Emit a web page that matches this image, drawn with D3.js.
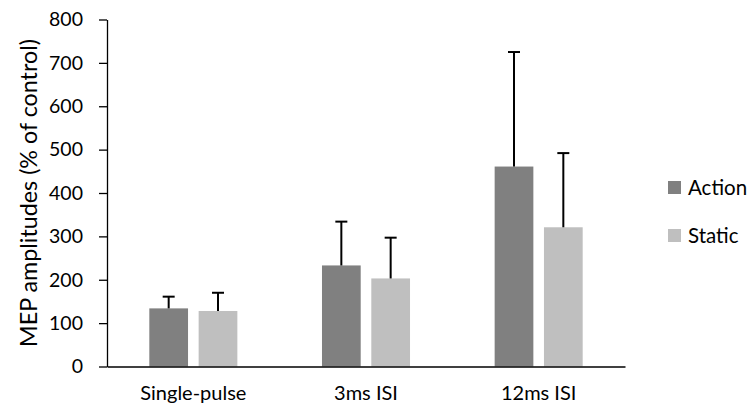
<!DOCTYPE html>
<html>
<head>
<meta charset="utf-8">
<script src="https://cdn.jsdelivr.net/npm/d3@7/dist/d3.min.js"></script>
<style>
  html, body { margin: 0; padding: 0; background: #fff; }
  svg { display: block; font-family: Lato, "Open Sans", sans-serif; }
</style>
</head>
<body>
<svg id="chart" width="750" height="410"></svg>
<script>
// Conditions, series and their mean / error values (% of control)
const categories = ["Single-pulse", "3ms ISI", "12ms ISI"];
const seriesNames = ["Action", "Static"];
const actionMeans = [134, 233, 461];
const staticMeans = [128, 203, 321];
const actionErrTop = [161, 334, 725];
const staticErrTop = [170, 297, 492];
const yTicks = [0, 100, 200, 300, 400, 500, 600, 700, 800];
const colors = ["#808080", "#bfbfbf"];

const rows = categories.map((c, i) => ({
  category: c,
  values: [
    { series: seriesNames[0], mean: actionMeans[i], top: actionErrTop[i] },
    { series: seriesNames[1], mean: staticMeans[i], top: staticErrTop[i] }
  ]
}));

const svg = d3.select("#chart");
const plot = { left: 107, right: 625, top: 19.5, bottom: 366.5 };

const x0 = d3.scaleBand().domain(categories).range([plot.left, plot.right]).padding(0);
const x1 = d3.scaleBand().domain(seriesNames).range([0, x0.bandwidth()])
  .paddingInner(0.215).paddingOuter(0.858);
const y = d3.scaleLinear().domain([0, 800]).range([plot.bottom, plot.top]);
const color = d3.scaleOrdinal().domain(seriesNames).range(colors);

// Bars
const groups = svg.append("g").selectAll("g").data(rows).join("g")
  .attr("transform", d => `translate(${x0(d.category)},0)`);

groups.selectAll("rect").data(d => d.values).join("rect")
  .attr("x", d => x1(d.series))
  .attr("y", d => y(d.mean))
  .attr("width", x1.bandwidth())
  .attr("height", d => y(0) - y(d.mean))
  .attr("fill", d => color(d.series));

// Upper error bars
const capHalf = 6;
groups.selectAll("g.err").data(d => d.values).join("g").attr("class", "err")
  .each(function(d) {
    const g = d3.select(this);
    const cx = x1(d.series) + x1.bandwidth() / 2;
    g.append("line").attr("x1", cx).attr("x2", cx)
      .attr("y1", y(d.mean)).attr("y2", y(d.top))
      .attr("stroke", "#000").attr("stroke-width", 2);
    g.append("line").attr("x1", cx - capHalf).attr("x2", cx + capHalf)
      .attr("y1", y(d.top)).attr("y2", y(d.top))
      .attr("stroke", "#000").attr("stroke-width", 2);
  });

// Y axis
const yAxis = svg.append("g")
  .attr("transform", `translate(${plot.left},0)`)
  .call(d3.axisLeft(y).tickValues(yTicks).tickSize(8).tickSizeOuter(0).tickPadding(16));
yAxis.select(".domain").attr("stroke", "#000").attr("stroke-width", 1.3);
yAxis.selectAll(".tick line").attr("stroke", "#000").attr("stroke-width", 1.3);
yAxis.selectAll(".tick text").attr("font-size", 19.5).attr("fill", "#000")
  .attr("font-family", "Lato, sans-serif");

// X axis
const xAxis = svg.append("g")
  .attr("transform", `translate(0,${plot.bottom})`)
  .call(d3.axisBottom(x0).tickSize(0).tickSizeOuter(0).tickPadding(19));
xAxis.select(".domain").attr("stroke", "#000").attr("stroke-width", 1.3);
xAxis.selectAll(".tick text").attr("font-size", 20).attr("fill", "#000")
  .attr("font-family", "Lato, sans-serif");

// Y axis title
svg.append("text")
  .attr("transform", `translate(36.5,${(plot.top + plot.bottom) / 2}) rotate(-90)`)
  .attr("text-anchor", "middle")
  .attr("font-size", 23.3)
  .attr("fill", "#000")
  .text("MEP amplitudes (% of control)");

// Legend
const legend = svg.append("g").selectAll("g").data(seriesNames).join("g")
  .attr("transform", (d, i) => `translate(668,${181 + i * 48})`);
legend.append("rect").attr("width", 13).attr("height", 13).attr("fill", d => color(d));
legend.append("text").attr("x", 20).attr("y", 6.5).attr("dy", "0.35em")
  .attr("font-size", 20.5).attr("fill", "#000").text(d => d);
</script>
</body>
</html>
